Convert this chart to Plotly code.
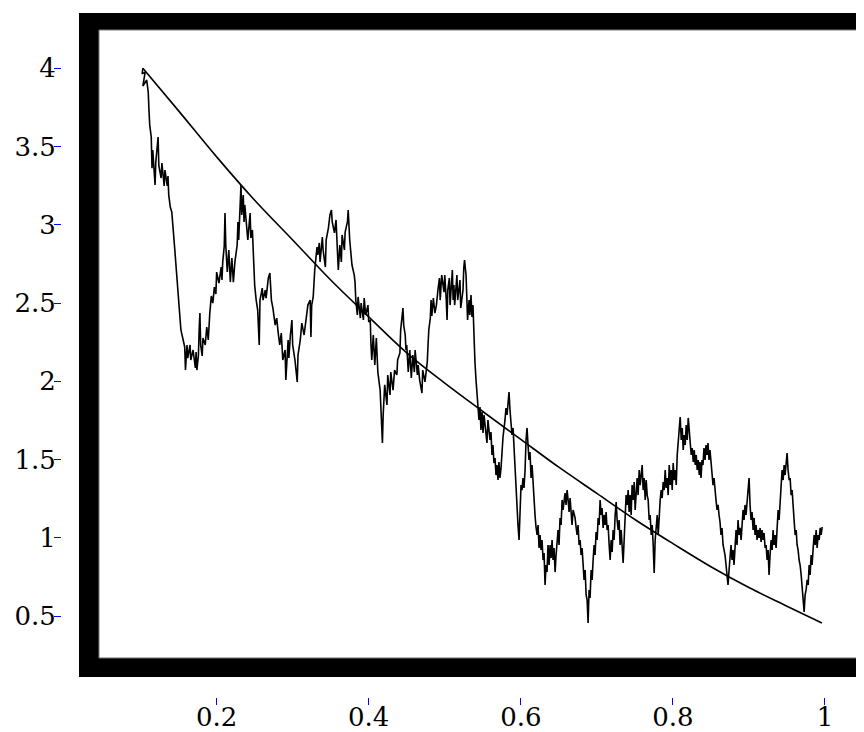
import plotly.graph_objects as go

# ---- smooth (mean) curve ----
curve_x = [0.103, 0.15, 0.20, 0.25, 0.30, 0.35, 0.40, 0.45, 0.50, 0.55,
           0.60, 0.65, 0.70, 0.75, 0.80, 0.85, 0.90, 0.95, 0.996]
curve_y = [4.000, 3.728, 3.434, 3.157, 2.903, 2.647, 2.412, 2.182, 1.988, 1.807,
           1.629, 1.451, 1.284, 1.117, 0.963, 0.815, 0.682, 0.563, 0.455]

# ---- random path in four stretches ----
seg_a_x = [0.103, 0.102, 0.106, 0.103, 0.108, 0.110, 0.111, 0.112, 0.114, 0.115,
           0.116, 0.119, 0.120, 0.123, 0.124, 0.127, 0.128, 0.131, 0.132, 0.135,
           0.136, 0.137, 0.139, 0.141, 0.145, 0.149, 0.153, 0.156, 0.158, 0.159,
           0.161, 0.162, 0.165, 0.166, 0.169, 0.172, 0.173, 0.174, 0.176, 0.177,
           0.178, 0.179, 0.181, 0.182, 0.185, 0.187, 0.189, 0.191, 0.193, 0.195,
           0.197, 0.199, 0.200, 0.203, 0.206, 0.207, 0.208, 0.210, 0.211, 0.212,
           0.214, 0.216, 0.218, 0.220, 0.222, 0.224, 0.227, 0.228, 0.229, 0.232,
           0.233, 0.235, 0.236, 0.237, 0.240, 0.241, 0.244, 0.245, 0.247, 0.248,
           0.250, 0.252, 0.254, 0.256, 0.257, 0.260, 0.261, 0.264, 0.265, 0.268,
           0.270, 0.272, 0.274, 0.277, 0.279, 0.281, 0.283, 0.285, 0.287, 0.290,
           0.291, 0.294, 0.295, 0.297, 0.299, 0.300, 0.303, 0.306, 0.307, 0.310,
           0.312, 0.315, 0.318, 0.320]
seg_a_y = [4.002, 3.964, 3.976, 3.887, 3.925, 3.849, 3.733, 3.637, 3.561, 3.362,
           3.478, 3.254, 3.401, 3.561, 3.376, 3.299, 3.395, 3.248, 3.350, 3.248,
           3.312, 3.190, 3.114, 3.082, 2.839, 2.583, 2.328, 2.264, 2.219, 2.072,
           2.232, 2.149, 2.232, 2.136, 2.200, 2.085, 2.187, 2.072, 2.162, 2.328,
           2.436, 2.232, 2.162, 2.277, 2.232, 2.347, 2.264, 2.436, 2.545, 2.500,
           2.602, 2.558, 2.698, 2.628, 2.730, 2.647, 2.762, 2.864, 3.075, 2.871,
           2.698, 2.839, 2.634, 2.788, 2.634, 2.762, 2.871, 3.018, 2.903, 3.254,
           3.063, 3.190, 3.018, 3.127, 2.980, 2.903, 3.075, 2.916, 2.967, 2.794,
           2.615, 2.519, 2.455, 2.232, 2.519, 2.596, 2.519, 2.583, 2.532, 2.660,
           2.692, 2.519, 2.468, 2.359, 2.404, 2.308, 2.232, 2.308, 2.136, 2.200,
           2.008, 2.264, 2.149, 2.296, 2.392, 2.232, 2.136, 1.996, 2.168, 2.264,
           2.372, 2.296, 2.392, 2.487]

seg_b_x = [0.323, 0.324, 0.325, 0.327, 0.329, 0.332, 0.333, 0.335, 0.336, 0.339,
           0.340, 0.343, 0.344, 0.347, 0.349, 0.351, 0.352, 0.355, 0.357, 0.358,
           0.360, 0.362, 0.364, 0.365, 0.368, 0.369, 0.372, 0.373, 0.374, 0.375,
           0.378, 0.381, 0.382, 0.383, 0.385, 0.386, 0.389, 0.390, 0.393, 0.394,
           0.396, 0.399, 0.400, 0.402, 0.403, 0.404, 0.406, 0.407, 0.408, 0.410,
           0.411, 0.412, 0.415, 0.416, 0.418, 0.419, 0.420, 0.421, 0.424, 0.425,
           0.428, 0.429, 0.432, 0.434, 0.437, 0.438, 0.441, 0.442, 0.445, 0.446,
           0.448, 0.449, 0.450, 0.452, 0.454, 0.456, 0.458, 0.460, 0.461, 0.464,
           0.465, 0.467, 0.470, 0.471, 0.474, 0.477, 0.478, 0.479, 0.481, 0.482,
           0.483, 0.485, 0.487, 0.489, 0.491, 0.493, 0.494, 0.495, 0.496, 0.499,
           0.500, 0.502, 0.503, 0.504, 0.506, 0.507, 0.510, 0.511, 0.512, 0.513,
           0.516, 0.517, 0.520, 0.521, 0.524, 0.525, 0.526, 0.528, 0.529,
           0.530, 0.532, 0.533]
seg_b_y = [2.519, 2.283, 2.487, 2.539, 2.711, 2.858, 2.807, 2.884, 2.762, 2.922,
           2.839, 2.730, 2.903, 2.980, 3.063, 3.095, 3.018, 2.948, 3.031, 2.871,
           2.711, 2.871, 2.762, 2.935, 2.839, 2.954, 3.018, 3.095, 2.967, 2.903,
           2.743, 2.679, 2.634, 2.519, 2.424, 2.539, 2.404, 2.500, 2.392, 2.532,
           2.424, 2.487, 2.379, 2.392, 2.232, 2.136, 2.296, 2.232, 2.104, 2.277,
           2.072, 2.059, 1.944, 1.817, 1.606, 1.785, 1.881, 1.977, 1.849, 2.040,
           1.913, 2.059, 1.944, 2.072, 2.040, 2.136, 2.181, 2.328, 2.468, 2.359,
           2.296, 2.200, 2.232, 2.059, 2.200, 2.021, 2.168, 2.059, 2.200, 2.040,
           2.104, 2.008, 1.925, 2.072, 1.996, 2.123, 2.232, 2.328, 2.404, 2.519,
           2.417, 2.532, 2.436, 2.487, 2.583, 2.660, 2.519, 2.615, 2.679, 2.570,
           2.679, 2.519, 2.392, 2.583, 2.660, 2.487, 2.711, 2.519, 2.615, 2.487,
           2.679, 2.519, 2.647, 2.468, 2.583, 2.724, 2.775, 2.679, 2.551,
           2.392, 2.519, 2.424]

seg_c_x = [0.5345, 0.5358, 0.5371, 0.5384, 0.5397, 0.5411, 0.5424, 0.5437, 0.5450, 0.5463,
           0.5476, 0.5490, 0.5503, 0.5516, 0.5529, 0.5555, 0.5568, 0.5582, 0.5595, 0.5608,
           0.5621, 0.5634, 0.5647, 0.5661, 0.5674, 0.5687, 0.5700, 0.5713, 0.5726, 0.5740,
           0.5753, 0.5766, 0.5792, 0.5805, 0.5819, 0.5832, 0.5845, 0.5858, 0.5871, 0.5884,
           0.5898, 0.5911, 0.5924, 0.5937, 0.5950, 0.5963, 0.5977, 0.5990, 0.6003, 0.6016,
           0.6029, 0.6042, 0.6056, 0.6069, 0.6082, 0.6095, 0.6108, 0.6121, 0.6135, 0.6148,
           0.6161, 0.6174, 0.6187, 0.6200, 0.6214, 0.6227, 0.6240, 0.6253, 0.6266, 0.6279,
           0.6293, 0.6306, 0.6319, 0.6332, 0.6345, 0.6358, 0.6372, 0.6385, 0.6398, 0.6411,
           0.6424, 0.6437, 0.6451, 0.6464, 0.6477, 0.6490, 0.6503, 0.6516, 0.6530, 0.6543,
           0.6556, 0.6582, 0.6595, 0.6609, 0.6622, 0.6635, 0.6648, 0.6661, 0.6674, 0.6688,
           0.6714, 0.6727, 0.6740, 0.6753, 0.6767, 0.6780, 0.6793, 0.6806, 0.6819, 0.6832,
           0.6846, 0.6859, 0.6872, 0.6885, 0.6898, 0.6911, 0.6925, 0.6938, 0.6951, 0.6964,
           0.6977, 0.6990, 0.7004, 0.7017, 0.7030, 0.7043, 0.7056, 0.7069, 0.7083, 0.7096,
           0.7109, 0.7122, 0.7135, 0.7148, 0.7162, 0.7175, 0.7188, 0.7201, 0.7214, 0.7227,
           0.7241, 0.7254, 0.7267, 0.7280, 0.7293, 0.7306, 0.7320, 0.7333, 0.7346, 0.7359,
           0.7372, 0.7385, 0.7399, 0.7412, 0.7425, 0.7438, 0.7451, 0.7464, 0.7478, 0.7491,
           0.7504, 0.7517, 0.7530, 0.7543, 0.7557, 0.7570, 0.7583, 0.7596, 0.7609, 0.7622,
           0.7636, 0.7649, 0.7662]
seg_c_y = [2.551, 2.411, 2.487, 2.264, 2.123, 2.008, 1.913, 1.817, 1.753, 1.836,
           1.689, 1.804, 1.670, 1.785, 1.721, 1.606, 1.753, 1.689, 1.625, 1.676,
           1.529, 1.593, 1.478, 1.510, 1.401, 1.465, 1.369, 1.484, 1.382, 1.446,
           1.561, 1.644, 1.753, 1.829, 1.785, 1.881, 1.932, 1.817, 1.734, 1.657,
           1.702, 1.561, 1.497, 1.337, 1.241, 1.082, 0.986, 1.178, 1.337, 1.305,
           1.382, 1.318, 1.433, 1.625, 1.702, 1.593, 1.497, 1.548, 1.382, 1.465,
           1.337, 1.241, 1.146, 1.069, 1.018, 1.082, 0.935, 1.018, 0.922, 0.986,
           0.858, 0.903, 0.699, 0.826, 0.781, 0.954, 0.826, 0.954, 0.871, 0.986,
           0.858, 0.935, 0.781, 0.890, 0.986, 1.050, 0.954, 1.127, 1.082, 1.242,
           1.178, 1.286, 1.210, 1.305, 1.242, 1.165, 1.254, 1.190, 1.082, 1.178,
           1.127, 1.069, 1.018, 1.082, 0.954, 0.986, 0.890, 0.935, 0.826, 0.731,
           0.794, 0.635, 0.603, 0.456, 0.667, 0.616, 0.794, 0.731, 0.858, 0.954,
           0.890, 1.037, 0.986, 1.127, 1.082, 1.242, 1.146, 1.190, 1.063, 1.146,
           1.082, 1.165, 1.050, 1.082, 0.954, 0.858, 0.986, 0.909, 1.050, 0.986,
           1.146, 1.229, 1.114, 1.050, 1.114, 0.954, 1.050, 0.922, 0.839, 0.986,
           1.146, 1.273, 1.210, 1.305, 1.165, 1.273, 1.146, 1.337, 1.242, 1.357,
           1.178, 1.305, 1.382, 1.273, 1.433, 1.337, 1.401, 1.465, 1.305, 1.382,
           1.242, 1.369, 1.273]

seg_d_x = [0.7675, 0.7688, 0.7701, 0.7715, 0.7728, 0.7741, 0.7754, 0.7767, 0.7780, 0.7794,
           0.7807, 0.7820, 0.7833, 0.7846, 0.7859, 0.7873, 0.7886, 0.7899, 0.7912, 0.7925,
           0.7938, 0.7952, 0.7965, 0.7978, 0.7991, 0.8004, 0.8017, 0.8031, 0.8044, 0.8057,
           0.8070, 0.8083, 0.8096, 0.8110, 0.8123, 0.8136, 0.8149, 0.8162, 0.8175, 0.8189,
           0.8202, 0.8215, 0.8228, 0.8241, 0.8254, 0.8268, 0.8281, 0.8294, 0.8307, 0.8320,
           0.8333, 0.8347, 0.8357, 0.8370, 0.8383, 0.8396, 0.8409, 0.8423, 0.8436, 0.8449,
           0.8462, 0.8475, 0.8488, 0.8502, 0.8515, 0.8528, 0.8541, 0.8554, 0.8567, 0.8581,
           0.8594, 0.8607, 0.8620, 0.8633, 0.8646, 0.8660, 0.8673, 0.8686, 0.8699, 0.8712,
           0.8725, 0.8739, 0.8752, 0.8765, 0.8778, 0.8791, 0.8804, 0.8818, 0.8831, 0.8844,
           0.8857, 0.8870, 0.8883, 0.8897, 0.8910, 0.8923, 0.8936, 0.8949, 0.8962, 0.8976,
           0.8989, 0.9002, 0.9015, 0.9028, 0.9041, 0.9055, 0.9068, 0.9081, 0.9094, 0.9107,
           0.9120, 0.9134, 0.9147, 0.9160, 0.9173, 0.9186, 0.9199, 0.9213, 0.9226, 0.9239,
           0.9252, 0.9265, 0.9278, 0.9292, 0.9305, 0.9318, 0.9331, 0.9344, 0.9357, 0.9371,
           0.9384, 0.9397, 0.9410, 0.9423, 0.9436, 0.9450, 0.9463, 0.9476, 0.9489, 0.9502,
           0.9515, 0.9529, 0.9542, 0.9555, 0.9568, 0.9581, 0.9594, 0.9608, 0.9621, 0.9634,
           0.9647, 0.9660, 0.9673, 0.9687, 0.9700, 0.9713, 0.9726, 0.9739, 0.9752, 0.9766,
           0.9779, 0.9792, 0.9805, 0.9818, 0.9831, 0.9845, 0.9858, 0.9871, 0.9884, 0.9897,
           0.9910, 0.9924, 0.9937, 0.9950, 0.9963]
seg_d_y = [1.242, 1.114, 1.146, 1.018, 1.082, 0.954, 0.775, 0.986, 1.050, 1.146,
           1.018, 1.178, 1.242, 1.305, 1.254, 1.357, 1.305, 1.433, 1.318, 1.382,
           1.273, 1.465, 1.337, 1.433, 1.305, 1.478, 1.369, 1.433, 1.337, 1.529,
           1.625, 1.689, 1.772, 1.625, 1.702, 1.561, 1.657, 1.593, 1.721, 1.625,
           1.766, 1.689, 1.593, 1.529, 1.574, 1.484, 1.561, 1.465, 1.529, 1.433,
           1.497, 1.401, 1.484, 1.382, 1.497, 1.465, 1.574, 1.497, 1.593, 1.529,
           1.606, 1.497, 1.561, 1.465, 1.401, 1.337, 1.382, 1.273, 1.242, 1.178,
           1.210, 1.146, 1.101, 1.018, 1.063, 0.954, 0.922, 0.890, 0.826, 0.763,
           0.699, 0.794, 0.858, 0.954, 0.858, 0.922, 0.826, 0.986, 1.050, 0.954,
           1.114, 1.018, 1.063, 0.986, 1.082, 1.178, 1.114, 1.210, 1.146, 1.242,
           1.305, 1.382, 1.210, 1.114, 1.165, 1.050, 1.127, 1.018, 1.082, 0.986,
           1.050, 0.999, 1.063, 0.973, 1.050, 0.986, 1.031, 0.935, 0.954, 0.858,
           0.922, 0.763, 0.890, 0.986, 0.922, 1.050, 0.954, 1.018, 0.935, 1.063,
           1.178, 1.114, 1.242, 1.305, 1.433, 1.369, 1.465, 1.401, 1.510, 1.542,
           1.433, 1.369, 1.382, 1.273, 1.305, 1.178, 1.114, 1.018, 1.050, 0.954,
           0.922, 0.858, 0.826, 0.763, 0.667, 0.603, 0.527, 0.635, 0.667, 0.731,
           0.699, 0.826, 0.763, 0.890, 0.826, 0.935, 1.018, 0.954, 1.050, 0.935,
           1.018, 0.986, 1.063, 1.018, 1.069]

x_tick_vals = [0.2, 0.4, 0.6, 0.8, 1.0]
x_tick_text = ["0.2", "0.4", "0.6", "0.8", "1"]
y_tick_vals = [0.5, 1.0, 1.5, 2.0, 2.5, 3.0, 3.5, 4.0]
y_tick_text = ["0.5", "1", "1.5", "2", "2.5", "3", "3.5", "4"]

walk_x = seg_a_x + seg_b_x + seg_c_x + seg_d_x
walk_y = seg_a_y + seg_b_y + seg_c_y + seg_d_y

fig = go.Figure()
fig.add_trace(go.Scatter(x=walk_x, y=walk_y, mode="lines",
                         line=dict(color="black", width=1.6), hoverinfo="skip"))
fig.add_trace(go.Scatter(x=curve_x, y=curve_y, mode="lines",
                         line=dict(color="black", width=1.6, shape="spline"),
                         hoverinfo="skip"))

# thick black frame (outer black, inner white)
fig.add_shape(type="rect", xref="paper", yref="paper",
              x0=0.0212, x1=1.03, y0=0.0292, y1=1.0,
              fillcolor="black", line=dict(width=0), layer="below")
fig.add_shape(type="rect", xref="paper", yref="paper",
              x0=0.0461, x1=0.9944, y0=0.0570, y1=0.9752,
              fillcolor="white", line=dict(color="#707070", width=1), layer="below")

tickfont = dict(family="DejaVu Serif", size=26, color="black")
fig.update_xaxes(range=[-0.00337, 1.05134], tickvals=x_tick_vals, ticktext=x_tick_text,
                 ticks="outside", ticklen=7, tickwidth=1, tickcolor="blue",
                 ticklabelstandoff=-10, automargin=False,
                 showgrid=False, zeroline=False, showline=False, tickfont=tickfont)
fig.update_yaxes(range=[-0.01725, 4.3534], tickvals=y_tick_vals, ticktext=y_tick_text,
                 ticks="outside", ticklen=7, tickwidth=1, tickcolor="blue",
                 ticklabelstandoff=-7, automargin=False,
                 showgrid=False, zeroline=False, showline=False, tickfont=tickfont)

# the page adds an 8px body margin, so the figure is shifted up/left by 8px
fig.update_layout(width=864, height=732, margin=dict(l=54, r=8, t=5, b=43),
                  paper_bgcolor="white", plot_bgcolor="rgba(0,0,0,0)",
                  showlegend=False)

fig.write_html("out.html")
